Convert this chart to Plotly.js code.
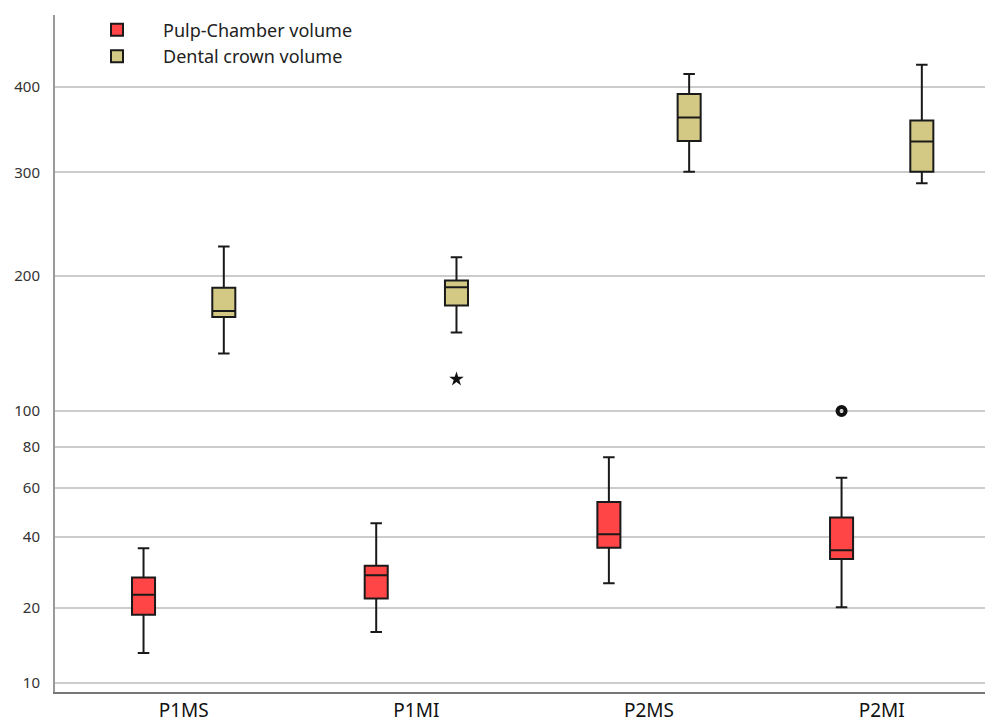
<!DOCTYPE html>
<html>
<head>
<meta charset="utf-8">
<script src="https://cdn.plot.ly/plotly-3.0.1.min.js"></script>
<style>html,body{margin:0;padding:0;background:#fff;}#chart{width:999px;height:726px;}</style>
</head>
<body>
<div id="chart"></div>
<script>
// ---- data ----
const categories = ['P1MS', 'P1MI', 'P2MS', 'P2MI'];

const pulpLower  = [14.0, 16.8, 27.0, 20.2];
const pulpQ1     = [19.1, 22.7, 37.0, 33.8];
const pulpMedian = [23.7, 29.2, 41.1, 36.3];
const pulpQ3     = [28.6, 31.9, 54.1, 47.9];
const pulpUpper  = [36.8, 45.6, 75.0, 64.8];

const crownLower  = [142.4, 157.9, 300.7, 289.4];
const crownQ1     = [169.4, 177.9, 336.8, 300.7];
const crownMedian = [173.8, 191.4, 364.3, 336.0];
const crownQ3     = [191.0, 196.3, 391.8, 360.7];
const crownUpper  = [228.0, 217.7, 415.3, 426.2];

const pulpOutlierCats = ['P2MI'];
const pulpOutlierVals = [100];
const crownOutlierCats = ['P1MI'];
const crownOutlierVals = [123.5];

const tickValues = [10, 20, 40, 60, 80, 100, 200, 300, 400];

// ---- custom (non-uniform) value axis of the original figure ----
// value -> axis coordinate knots, measured from the reference's tick spacing
const SCALE_VALUES = [10, 20, 40, 60, 80, 100, 200, 300, 400];
const SCALE_COORDS = [0, 75, 146, 195.5, 236, 272, 407.5, 510.7, 596];
function scaleY(v) {
  const n = SCALE_VALUES.length;
  let i = 0;
  if (v <= SCALE_VALUES[0]) i = 0;
  else if (v >= SCALE_VALUES[n - 1]) i = n - 2;
  else { while (v > SCALE_VALUES[i + 1]) i++; }
  const v0 = SCALE_VALUES[i], v1 = SCALE_VALUES[i + 1];
  const c0 = SCALE_COORDS[i], c1 = SCALE_COORDS[i + 1];
  return c0 + (v - v0) / (v1 - v0) * (c1 - c0);
}
const S = arr => arr.map(scaleY);

const lineCol = '#1a1a1a';
const traces = [
  {
    type: 'box', name: 'Pulp-Chamber volume', x: categories,
    q1: S(pulpQ1), median: S(pulpMedian), q3: S(pulpQ3),
    lowerfence: S(pulpLower), upperfence: S(pulpUpper),
    boxpoints: false, offsetgroup: 'pulp',
    fillcolor: '#FF4545', line: {color: lineCol, width: 2}, whiskerwidth: 0.5,
    hoverinfo: 'skip'
  },
  {
    type: 'box', name: 'Dental crown volume', x: categories,
    q1: S(crownQ1), median: S(crownMedian), q3: S(crownQ3),
    lowerfence: S(crownLower), upperfence: S(crownUpper),
    boxpoints: false, offsetgroup: 'crown',
    fillcolor: '#D3C984', line: {color: lineCol, width: 2}, whiskerwidth: 0.5,
    hoverinfo: 'skip'
  },
  {
    type: 'box', name: 'pulp outliers', x: pulpOutlierCats, y: S(pulpOutlierVals),
    offsetgroup: 'pulp', boxpoints: 'all', jitter: 0, pointpos: 0,
    fillcolor: 'rgba(0,0,0,0)', line: {color: 'rgba(0,0,0,0)', width: 0},
    marker: {symbol: 'circle-open', size: 8, color: '#111', line: {width: 4, color: '#111'}},
    showlegend: false, hoverinfo: 'skip'
  },
  {
    type: 'box', name: 'crown outliers', x: crownOutlierCats, y: S(crownOutlierVals),
    offsetgroup: 'crown', boxpoints: 'all', jitter: 0, pointpos: 0,
    fillcolor: 'rgba(0,0,0,0)', line: {color: 'rgba(0,0,0,0)', width: 0},
    marker: {symbol: 'star', size: 11, color: '#111'},
    showlegend: false, hoverinfo: 'skip'
  }
];

const layout = {
  width: 999, height: 726,
  margin: {l: 55, r: 14, t: 15, b: 34},
  paper_bgcolor: '#fff', plot_bgcolor: '#fff',
  boxmode: 'group', boxgap: 0.31, boxgroupgap: 0.713,
  hovermode: false,
  font: {family: '"Noto Sans", "Open Sans", sans-serif', color: '#222'},
  xaxis: {
    type: 'category', categoryorder: 'array', categoryarray: categories,
    range: [-0.553, 3.444],
    showgrid: false, zeroline: false,
    showline: true, linecolor: '#777', linewidth: 2,
    ticks: '', tickfont: {size: 19, color: '#111'}
  },
  yaxis: {
    range: [scaleY(10) - 9, scaleY(400) + 72],
    tickmode: 'array', tickvals: S(tickValues), ticktext: tickValues.map(String),
    showgrid: true, gridcolor: '#cccccc', gridwidth: 2,
    zeroline: false,
    showline: true, linecolor: '#9a9a9a', linewidth: 2,
    ticks: '', ticklabelstandoff: 10,
    tickfont: {size: 15, color: '#333'}
  },
  showlegend: true,
  legend: {
    x: 0.0172, xanchor: 'left', y: 1.005, yanchor: 'top',
    bgcolor: 'rgba(0,0,0,0)', borderwidth: 0, itemwidth: 82,
    font: {size: 18, color: '#222'}, tracegroupgap: 0
  }
};

Plotly.newPlot('chart', traces, layout, {displayModeBar: false, staticPlot: true});
</script>
</body>
</html>
